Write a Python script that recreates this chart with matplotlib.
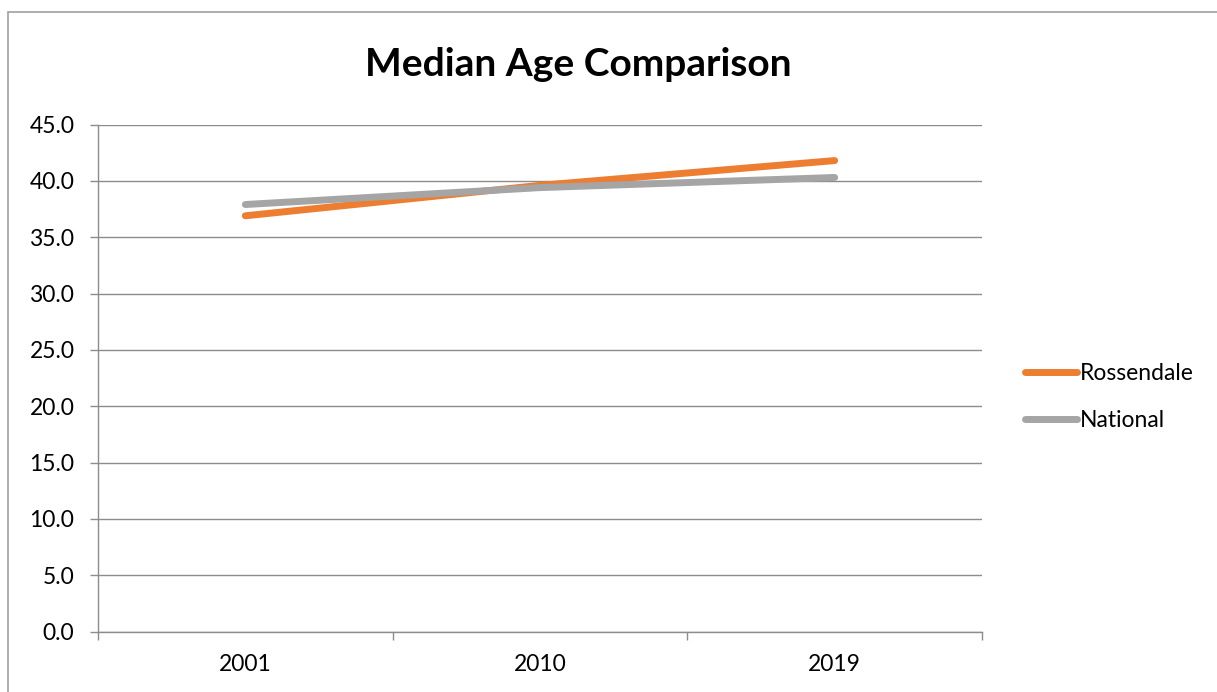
import matplotlib
matplotlib.use("Agg")
import matplotlib.pyplot as plt
from matplotlib.lines import Line2D

# median age by year
years = ["2001", "2010", "2019"]
rossendale = [36.9, 39.6, 41.8]
national = [37.9, 39.4, 40.3]

orange = "#ED7D31"
grey = "#A5A5A5"
grid_col = "#8C8C8C"

plt.rcParams["font.family"] = ["Lato", "DejaVu Sans"]

fig = plt.figure(figsize=(12.17, 6.92), dpi=100)
ax = fig.add_axes([98 / 1217, 1 - 631.7 / 692, (982 - 98) / 1217, (631.7 - 124.5) / 692])

x = range(len(years))
ax.plot(x, rossendale, color=orange, lw=5, solid_capstyle="round", label="Rossendale", zorder=3)
ax.plot(x, national, color=grey, lw=5, solid_capstyle="round", label="National", zorder=3)

ax.set_xlim(-0.5, len(years) - 0.5)
ax.set_ylim(0, 45)
ax.set_yticks([i * 5 for i in range(10)])
ax.set_yticklabels([f"{i * 5:.1f}" for i in range(10)])
ax.set_xticks(list(x))
ax.set_xticklabels(years)
ax.set_xticks([-0.5, 0.5, 1.5, 2.5], minor=True)

ax.grid(axis="y", color=grid_col, lw=1)
ax.set_axisbelow(True)
for side in ["top", "right"]:
    ax.spines[side].set_visible(False)
for side in ["left", "bottom"]:
    ax.spines[side].set_color(grid_col)
    ax.spines[side].set_linewidth(1)

ax.tick_params(axis="y", length=6, width=1, color=grid_col, labelsize=16.5, pad=11)
ax.tick_params(axis="x", which="major", length=0, labelsize=16.5, pad=16)
ax.tick_params(axis="x", which="minor", length=6, width=1, color=grid_col)

fig.text(578 / 1217, 1 - 64 / 692, "Median Age Comparison", ha="center", va="center",
         fontsize=28, fontweight="bold")

handles = [Line2D([], [], color=orange, lw=5, solid_capstyle="round"),
           Line2D([], [], color=grey, lw=5, solid_capstyle="round")]
fig.legend(handles, ["Rossendale", "National"], loc="center left",
           bbox_to_anchor=(1004 / 1217, 1 - 397 / 692), frameon=False,
           fontsize=16.5, handlelength=2.3, handletextpad=0.12, labelspacing=1.15)

# outer chart frame
fig.add_artist(plt.Rectangle((8 / 1217, -0.1), 1.2, 1.1 - 12 / 692,
                             transform=fig.transFigure, fill=False,
                             edgecolor="#A0A0A0", lw=1.2))

fig.savefig("out.png", dpi=100)
